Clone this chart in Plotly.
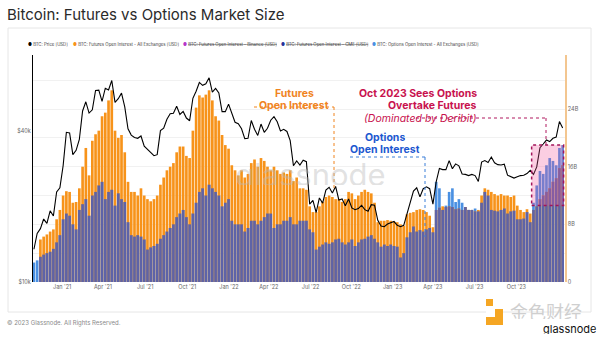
import numpy as np
import pandas as pd
import plotly.graph_objects as go

# Weekly samples starting 2020-10-29
start_date = "2020-10-29"

# BTC price, thousands of USD
price_k = [
    13.5, 15.6, 16.3, 17.8, 17.1, 19.2, 18.3, 22.8, 23.7, 29.0,
    39.4, 39.2, 32.1, 33.4, 36.9, 47.9, 52.1, 47.0, 48.4, 57.8, 58.0, 52.3, 59.0,
    58.1, 63.3, 51.8, 53.6, 56.4, 49.7, 40.7, 38.4, 37.6, 37.3, 38.1, 34.7, 33.6,
    32.8, 31.8, 32.1, 40.0, 40.9, 44.4, 46.7, 46.9, 50.0, 46.4, 47.7, 44.9, 43.8,
    53.8, 57.4, 62.2, 60.6, 61.4, 64.9, 56.9, 58.9, 56.5, 47.6, 47.6, 51.0, 47.1,
    43.2, 42.6, 40.7, 37.2, 37.3, 43.9, 40.5, 38.3, 42.5, 39.4, 40.9, 44.0, 45.5,
    43.4, 39.9, 40.5, 39.7, 36.5, 29.0, 30.3, 29.2, 30.5, 30.1, 20.4, 21.1, 18.9,
    21.6, 20.6, 23.2, 23.8, 22.6, 24.0, 21.2, 21.4, 20.1, 21.4, 19.7, 19.4, 19.6,
    20.2, 19.4, 19.1, 20.3, 20.2, 17.6, 16.7, 16.6, 17.0, 17.2, 17.4, 16.8, 16.6,
    16.8, 18.8, 21.1, 23.0, 23.7, 21.8, 23.5, 23.9, 23.5, 20.4, 25.0, 28.3, 28.0,
    28.0, 30.4, 28.2, 29.5, 29.0, 26.9, 26.8, 26.5, 26.8, 26.5, 25.1, 30.0, 30.4,
    29.9, 31.4, 29.8, 29.3, 29.2, 29.4, 26.6, 26.2, 25.9, 26.2, 26.5, 26.6, 27.0,
    27.8, 26.8, 28.7, 34.2, 35.4, 36.7, 36.2, 37.3, 37.7, 43.5, 41.0,
]

# Futures open interest, all exchanges, billions of USD
futures_oi_b = [
    None, None, 5.9, 6.3, 6.6, 7.0, 7.3, 8.7, 10.0, 12.0,
    12.6, 12.5, 11.0, 11.1, 13.0, 16.0, 18.6, 14.8, 19.6, 20.5, 21.0, 23.0, 23.5,
    25.2, 26.6, 21.0, 20.0, 20.4, 18.0, 13.9, 12.5, 12.5, 12.0, 13.0, 12.0, 11.5,
    11.2, 11.5, 12.0, 13.5, 14.5, 15.5, 16.0, 16.5, 18.0, 18.8, 18.8, 17.5, 17.2,
    21.0, 24.2, 25.9, 25.6, 26.0, 26.6, 25.2, 23.0, 22.4, 20.4, 19.0, 18.5, 16.2,
    15.5, 14.8, 15.5, 14.5, 15.0, 16.5, 17.0, 16.0, 17.2, 16.8, 16.0, 15.5, 16.0,
    15.5, 15.0, 15.2, 15.0, 15.5, 14.0, 14.5, 13.0, 13.0, 12.8, 10.5, 9.7, 9.7,
    10.5, 11.1, 11.8, 12.0, 11.8, 11.5, 11.5, 11.1, 11.5, 12.5, 12.3, 11.5, 12.0,
    12.5, 12.8, 12.5, 12.3, 11.0, 8.3, 8.5, 8.5, 8.6, 8.5, 8.4, 8.3, 8.0,
    7.8, 9.4, 9.6, 9.7, 10.0, 10.1, 10.0, 9.7, 9.2, 7.6, 10.0, 10.3, 10.5,
    10.4, 10.5, 10.4, 10.1, 10.2, 10.0, 10.4, 10.0, 10.0, 9.8, 10.0, 12.0, 13.0,
    12.8, 12.5, 12.2, 12.0, 12.2, 12.0, 12.0, 11.8, 12.0, 10.6, 10.0, 9.7, 10.1,
    9.5, 10.0, 10.5, 11.5, 12.0, 12.5, 13.0, 13.9, 14.4, 15.8, 16.2,
]

# Options open interest, all exchanges, billions of USD
options_oi_b = [
    2.7, 3.0, 3.5, 3.8, 4.0, 4.2, 4.6, 5.5, 6.5, 8.7,
    9.5, 9.2, 8.0, 7.3, 10.0, 10.8, 11.5, 9.2, 12.0, 12.5, 13.4, 13.9, 11.5,
    12.5, 12.8, 10.6, 12.3, 11.5, 11.1, 8.3, 6.5, 6.3, 6.5, 6.3, 5.9, 4.5,
    4.8, 5.0, 5.3, 6.0, 6.5, 7.0, 7.5, 8.0, 9.0, 9.5, 10.0, 9.0, 8.0,
    9.5, 11.0, 12.5, 13.0, 12.0, 13.5, 13.0, 12.5, 12.0, 10.5, 11.0, 11.5, 8.5,
    8.0, 8.0, 8.0, 7.0, 7.5, 8.5, 8.5, 8.0, 8.5, 9.0, 9.5, 9.5, 7.5,
    8.0, 8.0, 8.5, 8.5, 9.0, 8.0, 8.0, 8.5, 8.5, 8.5, 7.3, 6.9, 4.5,
    4.9, 5.2, 5.5, 5.3, 5.5, 5.9, 6.0, 5.5, 5.2, 5.5, 5.9, 5.0, 5.5,
    5.9, 6.0, 6.3, 6.5, 6.0, 5.5, 4.9, 5.2, 5.0, 5.2, 5.0, 4.9, 3.4,
    4.0, 6.2, 6.9, 7.7, 7.0, 7.2, 7.0, 7.3, 7.5, 6.9, 13.9, 13.0, 10.0,
    10.6, 12.5, 13.0, 11.1, 11.5, 11.0, 10.4, 10.0, 10.0, 10.2, 9.8, 11.0, 12.5,
    12.0, 10.0, 9.9, 9.8, 10.0, 10.2, 9.5, 9.8, 9.9, 8.7, 8.7, 8.8, 9.7,
    8.3, 11.0, 13.4, 15.4, 15.0, 16.2, 17.2, 16.8, 16.2, 18.6, 19.0,
]

# where each quarter label sits along the time axis
x_tick_dates = ["2020-12-29", "2021-03-27", "2021-06-26", "2021-09-25",
                "2021-12-24", "2022-03-20", "2022-06-18", "2022-09-14",
                "2022-12-12", "2023-03-09", "2023-06-07", "2023-09-05"]
x_tick_text = ["Jan '21", "Apr '21", "Jul '21", "Oct '21",
               "Jan '22", "Apr '22", "Jul '22", "Oct '22",
               "Jan '23", "Apr '23", "Jul '23", "Oct '23"]
oi_tick_vals = [0, 4, 8, 12, 16, 20, 24, 28]
oi_tick_text = ["0", "", "8B", "", "16B", "", "24B", ""]
price_tick_vals = [10000, 40000]
price_tick_text = ["$10k", "$40k"]

legend_items = [
    ("BTC: Price [USD]", "#000000", False),
    ("BTC: Futures Open Interest - All Exchanges [USD]", "#f7931a", False),
    ("BTC: Futures Open Interest - Binance [USD]", "#b536c9", True),
    ("BTC: Futures Open Interest - CME [USD]", "#25329a", True),
    ("BTC: Options Open Interest - All Exchanges [USD]", "#4a90e2", False),
]

# ---------------------------------------------------------------------------
dates = pd.date_range(start_date, periods=len(price_k), freq="7D")
price = np.array(price_k, dtype=float) * 1000
fut = np.array(futures_oi_b, dtype=float)
opt = np.array(options_oi_b, dtype=float)
shared = np.minimum(fut, opt)  # part of the bar covered by both series

ORANGE = "#f7931a"
BLUE = "#4a90e2"
SLATE = "#5e63a7"
FONT = "Inter"

fig = go.Figure()
fig.add_trace(go.Bar(x=dates, y=opt, marker=dict(color=BLUE, line=dict(width=0)),
                     yaxis="y", showlegend=False, name="Options OI"))
fig.add_trace(go.Bar(x=dates, y=fut, marker=dict(color=ORANGE, line=dict(width=0)),
                     yaxis="y", showlegend=False, name="Futures OI"))
fig.add_trace(go.Bar(x=dates, y=shared, marker=dict(color=SLATE, line=dict(width=0)),
                     yaxis="y", showlegend=False, name="Overlap"))
fig.add_trace(go.Scatter(x=dates, y=price, mode="lines", yaxis="y2",
                         line=dict(color="#000000", width=1.1), showlegend=False,
                         name="Price"))

# plot area in pixels: x 33..565, y 55..282
L, R, T, B = 33, 565, 55, 282


def px(x):
    return (x - L) / (R - L)


def py(y):
    return (B - y) / (B - T)


ann = []
shapes = []

# title and footer
ann.append(dict(x=px(5), y=py(15), xref="paper", yref="paper", xanchor="left",
                yanchor="middle", showarrow=False,
                text="Bitcoin: Futures vs Options Market Size",
                font=dict(family=FONT, size=15, color="#2a2a2a")))
ann.append(dict(x=px(5), y=py(323), xref="paper", yref="paper", xanchor="left",
                yanchor="middle", showarrow=False,
                text="© 2023 Glassnode. All Rights Reserved.",
                font=dict(family=FONT, size=6, color="#8a8a8a")))

# legend row
legend_x = [26, 71, 181, 279, 370]
for (label, color, hidden), lx in zip(legend_items, legend_x):
    t = f"<span style='color:{color}'>●</span> " + (f"<s>{label}</s>" if hidden else label)
    ann.append(dict(x=px(lx), y=py(44), xref="paper", yref="paper", xanchor="left",
                    yanchor="middle", showarrow=False, text=t,
                    font=dict(family=FONT, size=4.3, color="#3a3a3a")))

# watermark
ann.append(dict(x=px(310), y=py(174), xref="paper", yref="paper", showarrow=False,
                height=22, valign="middle",
                text="glassnode", font=dict(family=FONT, size=31,
                                            color="rgba(185,185,185,0.42)")))

# callouts
ORANGE_TXT = "#f0841f"
BLUE_TXT = "#1d58d0"
RED_TXT = "#c8124e"
for txt, x, y, col in [("Futures", 294, 86, ORANGE_TXT), ("Open Interest", 294, 98, ORANGE_TXT),
                       ("Options", 385, 137, BLUE_TXT), ("Open Interest", 385, 149, BLUE_TXT),
                       ("Oct 2023 Sees Options", 479, 86, RED_TXT),
                       ("Overtake Futures", 479, 98, RED_TXT)]:
    ann.append(dict(x=px(x), y=py(y), xref="paper", yref="paper", showarrow=False,
                    height=11, valign="middle",
                    text=f"<b>{txt}</b>", font=dict(family=FONT, size=10.5, color=col)))
ann.append(dict(x=px(479), y=py(111), xref="paper", yref="paper", showarrow=False,
                height=11, valign="middle",
                text="<i>(Dominated by Deribit)</i>",
                font=dict(family=FONT, size=10.5, color=RED_TXT)))


def dotted(pts, color):
    for (x0, y0), (x1, y1) in zip(pts[:-1], pts[1:]):
        shapes.append(dict(type="line", xref="paper", yref="paper",
                           x0=px(x0), y0=py(y0), x1=px(x1), y1=py(y1),
                           line=dict(color=color, width=1, dash="dot")))


dotted([(254, 107), (334, 107), (334, 190)], ORANGE_TXT)
dotted([(350, 157), (425, 157), (425, 237)], "#3a7fd8")
dotted([(416, 118), (546, 118), (546, 145)], "#b0195e")

# highlighted region for Oct-Dec 2023
shapes.append(dict(type="rect", xref="x", yref="y", x0="2023-10-08", x1="2023-12-16",
                   y0=10.6, y1=19.0, fillcolor="rgba(240,80,150,0.28)",
                   line=dict(color="#a3145a", width=1.5, dash="dot"), layer="above"))

# card border
shapes.append(dict(type="rect", xref="paper", yref="paper", x0=px(8), x1=px(591),
                   y0=py(312), y1=py(28), line=dict(color="#e6e6e6", width=1),
                   layer="below"))

# brand mark, bottom right
shapes.append(dict(type="rect", xref="paper", yref="paper", x0=px(486), x1=px(493),
                   y0=py(306), y1=py(299), fillcolor="#f5a623", line=dict(width=0)))
shapes.append(dict(type="rect", xref="paper", yref="paper", x0=px(486), x1=px(503),
                   y0=py(325), y1=py(309), fillcolor="#f5a623", line=dict(width=0)))
shapes.append(dict(type="rect", xref="paper", yref="paper", x0=px(486), x1=px(495),
                   y0=py(317), y1=py(309), fillcolor="#ffffff", line=dict(width=0)))
ann.append(dict(x=px(508), y=py(310), xref="paper", yref="paper", showarrow=False,
                xanchor="left", yanchor="middle", height=17, valign="middle",
                text="金色财经", font=dict(family="Noto Sans CJK SC", size=18,
                                          color="#cfcfcf")))
ann.append(dict(x=px(598), y=py(329), xref="paper", yref="paper", xanchor="right",
                yanchor="middle", showarrow=False, text="glassnode", height=10,
                valign="middle", font=dict(family=FONT, size=11, color="#111111")))

tick_font = dict(family=FONT, size=5.5, color="#666666")
fig.update_layout(
    width=600, height=338,
    margin=dict(l=L, r=600 - R, t=T, b=338 - B),
    paper_bgcolor="white", plot_bgcolor="white",
    barmode="overlay", bargap=0.18,
    showlegend=False,
    xaxis=dict(type="date", range=["2020-10-27", "2023-12-19"],
               tickvals=x_tick_dates, ticktext=x_tick_text, tickfont=tick_font,
               showgrid=False, zeroline=False, showline=False, ticks=""),
    yaxis=dict(side="right", range=[0, 31.5], tickvals=oi_tick_vals,
               ticktext=oi_tick_text, tickfont=tick_font, showgrid=True,
               gridcolor="#f1f1f1", gridwidth=1, zeroline=False, showline=True,
               linecolor="#f3c690", linewidth=1.5, ticks=""),
    yaxis2=dict(type="log", side="left", overlaying="y", range=[4, 4.903],
                tickvals=price_tick_vals, ticktext=price_tick_text,
                tickfont=tick_font, showgrid=False, zeroline=False,
                showline=True, linecolor="#000000", linewidth=1.2, ticks=""),
    annotations=ann, shapes=shapes,
)

fig.write_html("out.html")
